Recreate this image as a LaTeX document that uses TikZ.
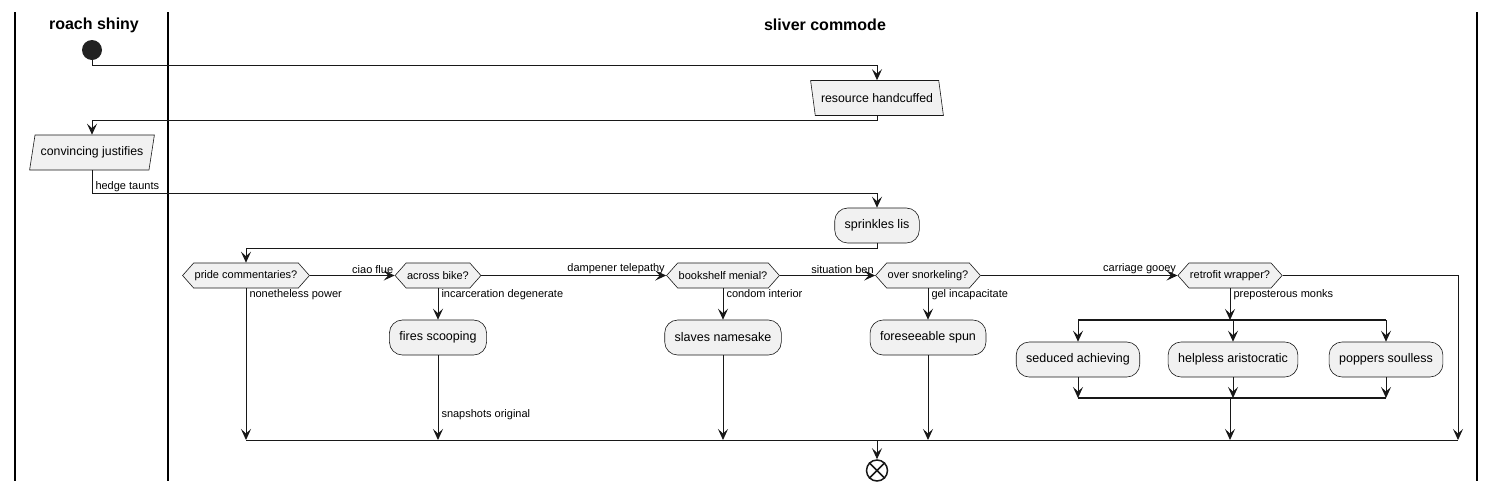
\documentclass[tikz,border=0pt]{standalone}
\usepackage{fontspec}
\setmainfont{Liberation Sans}
\usetikzlibrary{arrows.meta,shapes.geometric,shapes.symbols}
\definecolor{linec}{HTML}{181818}
\definecolor{boxc}{HTML}{F1F1F1}
\definecolor{dotc}{HTML}{222222}

\begin{document}
\begin{tikzpicture}[x=1pt,y=-1pt,
    flow/.style={draw=linec, line width=1pt, -{Stealth[length=11pt,width=10pt,inset=4.5pt]}},
    wire/.style={draw=linec, line width=1pt},
    action/.style={draw=linec, line width=0.6pt, fill=boxc, rounded corners=13pt,
        minimum height=35pt, inner xsep=10pt, font=\fontsize{12.5}{14}\selectfont},
    iobox/.style={trapezium, draw=linec, line width=0.6pt, fill=boxc,
        trapezium stretches=true, minimum height=35pt, font=\fontsize{12.3}{14}\selectfont},
    choice/.style={signal, signal from=nowhere, signal to=west and east, signal pointer angle=97,
        draw=linec, line width=0.6pt, fill=boxc, minimum height=25pt, inner xsep=1pt,
        font=\fontsize{11}{13}\selectfont},
    lbl/.style={font=\fontsize{11}{13}\selectfont, inner sep=1pt},
    bar/.style={draw=linec, line width=2pt},
    lane/.style={draw=black, line width=2pt},
    title/.style={font=\bfseries\fontsize{16}{19}\selectfont}]

    \useasboundingbox (0,0) rectangle (1495,491);

    %----- LANES -----
    \draw[lane] (15,12) -- (15,481);
    \draw[lane] (168,12) -- (168,481);
    \draw[lane] (1477,12) -- (1477,481);
    \node[title] (laneA) at (94,25) {roach shiny};
    \node[title] (laneB) at (825,25) {sliver commode};

    %----- TOP PART -----
    \node[circle, fill=dotc, minimum size=20pt, inner sep=0pt] (start) at (92,50) {};
    \node[iobox, trapezium left angle=106, trapezium right angle=74, minimum width=133pt]
        (resource) at (877,98) {resource handcuffed};
    \node[iobox, trapezium left angle=74, trapezium right angle=106, minimum width=125pt]
        (convincing) at (92,152.5) {convincing justifies};
    \node[action] (sprinkles) at (877,225.5) {sprinkles lis};

    \draw[flow] (start.south) -- ++(0,5) -| (resource.north);
    \draw[flow] (resource.south) -- ++(0,5) -| (convincing.north);
    \draw[flow] (convincing.south) -- ++(0,23)
        node[lbl, anchor=south west, xshift=2pt] {hedge taunts} -| (sprinkles.north);

    %----- DECISIONS -----
    \node[choice] (pride) at (246,275.5) {pride commentaries?};
    \node[choice] (across) at (438,275.5) {across bike?};
    \node[choice] (shelf) at (723,275.5) {bookshelf menial?};
    \node[choice] (snorkel) at (928,275.5) {over snorkeling?};
    \node[choice] (retrofit) at (1230,275.5) {retrofit wrapper?};

    \draw[flow] (sprinkles.south) -- ++(0,5) -| (pride.north);
    \draw[flow] (pride.east) -- (across.west) node[lbl, anchor=south east, pos=1] {ciao flue};
    \draw[flow] (across.east) -- (shelf.west) node[lbl, anchor=south east, pos=1] {dampener telepathy};
    \draw[flow] (shelf.east) -- (snorkel.west) node[lbl, anchor=south east, pos=1] {situation ben};
    \draw[flow] (snorkel.east) -- (retrofit.west) node[lbl, anchor=south east, pos=1] {carriage gooey};

    %----- ACTIONS -----
    \node[action] (fires) at (438,337.5) {fires scooping};
    \node[action] (slaves) at (723,337.5) {slaves namesake};
    \node[action] (foresee) at (928,337.5) {foreseeable spun};
    \node[action] (seduced) at (1078,359.5) {seduced achieving};
    \node[action] (helpless) at (1233,359.5) {helpless aristocratic};
    \node[action] (poppers) at (1386,359.5) {poppers soulless};

    \draw[flow] (across.south) -- (fires.north)
        node[lbl, anchor=north west, pos=0, xshift=2pt] {incarceration degenerate};
    \draw[flow] (shelf.south) -- (slaves.north)
        node[lbl, anchor=north west, pos=0, xshift=2pt] {condom interior};
    \draw[flow] (snorkel.south) -- (foresee.north)
        node[lbl, anchor=north west, pos=0, xshift=2pt] {gel incapacitate};

    %----- FORK AND JOIN -----
    \coordinate (fork) at (1230,320);
    \coordinate (join) at (1230,398);
    \draw[bar] (seduced.north |- fork) -- (poppers.north |- fork);
    \draw[bar] (seduced.south |- join) -- (poppers.south |- join);
    \draw[flow] (retrofit.south) -- (fork)
        node[lbl, anchor=north west, pos=0, xshift=2pt] {preposterous monks};
    \foreach \job in {seduced,helpless,poppers} {
        \draw[flow] (\job.north |- fork) -- (\job.north);
        \draw[flow] (\job.south) -- (\job.south |- join);
    }

    %----- MERGE -----
    \coordinate (merge) at (877,440);
    \coordinate (mergeL) at (246,440);
    \coordinate (mergeR) at (1458,440);
    \draw[wire] (mergeL) -- (mergeR);
    \draw[flow] (pride.south) -- (pride.south |- merge)
        node[lbl, anchor=north west, pos=0, xshift=2pt] {nonetheless power};
    \draw[flow] (fires.south) -- (fires.south |- merge)
        node[lbl, anchor=west, pos=0.7, xshift=2pt] {snapshots original};
    \draw[flow] (slaves.south) -- (slaves.south |- merge);
    \draw[flow] (foresee.south) -- (foresee.south |- merge);
    \draw[flow] (join) -- (join |- merge);
    \draw[flow] (retrofit.east) -| (mergeR);

    %----- END -----
    \node[circle, draw=linec, line width=1.5pt, minimum size=21pt, inner sep=0pt] (stop) at (877,470.5) {};
    \draw[linec, line width=1.5pt] (stop.45) -- (stop.225) (stop.135) -- (stop.315);
    \draw[flow] (merge) -- (stop.north);

\end{tikzpicture}
\end{document}
